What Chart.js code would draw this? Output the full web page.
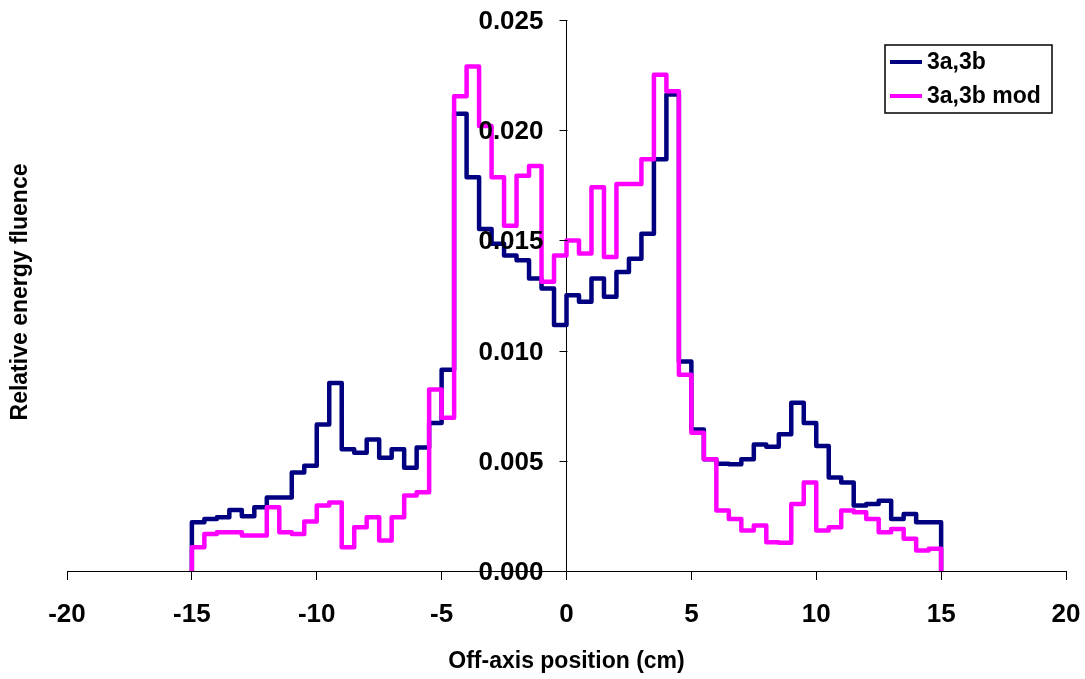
<!DOCTYPE html>
<html lang="en">
<head>
    <meta charset="UTF-8">
    <title>Relative energy fluence</title>
    <script src="https://cdn.jsdelivr.net/npm/chart.js"></script>
    <style>
        body { margin: 0; background: #fff; }
        #wrap { width: 1085px; height: 679px; }
    </style>
</head>
<body>
<div id="wrap"><canvas id="grafico"></canvas></div>
<script>
    // bin edges (cm) and fluence per bin
    const binEdges = [
        -15, -14.5, -14, -13.5, -13, -12.5, -12, -11.5, -11, -10.5,
        -10, -9.5, -9, -8.5, -8, -7.5, -7, -6.5, -6, -5.5,
        -5, -4.5, -4, -3.5, -3, -2.5, -2, -1.5, -1, -0.5,
        0, 0.5, 1, 1.5, 2, 2.5, 3, 3.5, 4, 4.5,
        5, 5.5, 6, 6.5, 7, 7.5, 8, 8.5, 9, 9.5,
        10, 10.5, 11, 11.5, 12, 12.5, 13, 13.5, 14, 14.5, 15
    ];
    const fluence3a3b = [
        0.00221, 0.00236, 0.00244, 0.00277, 0.00248, 0.00289, 0.00334, 0.00334, 0.00447, 0.00478,
        0.00665, 0.00853, 0.00552, 0.00537, 0.00597, 0.00514, 0.00552, 0.00469, 0.00560, 0.00672,
        0.00913, 0.02075, 0.01786, 0.01552, 0.01485, 0.01432, 0.01410, 0.01327, 0.01282, 0.01116,
        0.01251, 0.01222, 0.01327, 0.01244, 0.01357, 0.01417, 0.01530, 0.01868, 0.02162, 0.00951,
        0.00642, 0.00507, 0.00487, 0.00484, 0.00507, 0.00574, 0.00564, 0.00620, 0.00763, 0.00672,
        0.00567, 0.00424, 0.00402, 0.00297, 0.00304, 0.00319, 0.00236, 0.00259, 0.00221, 0.00221
    ];
    const fluenceMod = [
        0.00108, 0.00168, 0.00176, 0.00176, 0.00161, 0.00161, 0.00289, 0.00176, 0.00168, 0.00225,
        0.00297, 0.00311, 0.00108, 0.00199, 0.00244, 0.00138, 0.00244, 0.00342, 0.00357, 0.00823,
        0.00695, 0.02154, 0.02289, 0.02019, 0.01786, 0.01567, 0.01793, 0.01838, 0.01312, 0.01432,
        0.01500, 0.01440, 0.01741, 0.01425, 0.01756, 0.01756, 0.01868, 0.02252, 0.02177, 0.00890,
        0.00627, 0.00507, 0.00274, 0.00236, 0.00184, 0.00206, 0.00131, 0.00128, 0.00304, 0.00402,
        0.00184, 0.00199, 0.00274, 0.00266, 0.00236, 0.00176, 0.00191, 0.00146, 0.00093, 0.00101
    ];
    const seriesNames = ["3a,3b", "3a,3b mod"];
    const seriesColors = ["#000080", "#FF00FF"];

    // step curve that starts and ends on the x axis
    function stepPoints(vals) {
        const pts = [{ x: binEdges[0], y: 0 }];
        vals.forEach((v, i) => pts.push({ x: binEdges[i], y: v }));
        const last = binEdges[binEdges.length - 1];
        pts.push({ x: last, y: vals[vals.length - 1] });
        pts.push({ x: last, y: 0 });
        return pts;
    }

    const fuente = { family: "Liberation Sans, Arial, sans-serif", weight: "bold" };

    const extras = {
        id: "extras",
        afterDraw(chart) {
            const c = chart.ctx;
            const ys = chart.scales.y;
            const x0 = Math.round(chart.scales.x.getPixelForValue(0)) + 0.5;
            c.save();
            // y ticks and labels next to the axis crossing at x = 0
            c.strokeStyle = "#000";
            c.lineWidth = 1;
            c.fillStyle = "#000";
            c.font = "bold 26px Liberation Sans, Arial, sans-serif";
            c.textAlign = "right";
            c.textBaseline = "middle";
            ys.ticks.forEach((t) => {
                const y = Math.round(ys.getPixelForValue(t.value)) + 0.5;
                c.beginPath();
                c.moveTo(x0 - 8, y);
                c.lineTo(x0, y);
                c.stroke();
                c.fillText(t.value.toFixed(3), x0 - 24, y + 1);
            });

            // y axis title on the far left
            c.font = "bold 23px Liberation Sans, Arial, sans-serif";
            c.textAlign = "center";
            c.translate(21, 292);
            c.rotate(-Math.PI / 2);
            c.fillText("Relative energy fluence", 0, 0);
            c.restore();

            // legend box
            c.save();
            c.fillStyle = "#fff";
            c.fillRect(885, 45, 167, 68);
            c.strokeStyle = "#000";
            c.lineWidth = 1.5;
            c.strokeRect(885, 45, 167, 68);
            c.font = "bold 23px Liberation Sans, Arial, sans-serif";
            c.textBaseline = "middle";
            seriesNames.forEach((nombre, i) => {
                const y = 62 + i * 34;
                c.strokeStyle = seriesColors[i];
                c.lineWidth = 4;
                c.beginPath();
                c.moveTo(890, y);
                c.lineTo(922, y);
                c.stroke();
                c.fillStyle = "#000";
                c.fillText(nombre, 927, y + 1);
            });
            c.restore();
        }
    };

    const ctx = document.getElementById("grafico").getContext("2d");
    const chart = new Chart(ctx, {
        type: "line",
        data: {
            datasets: [
                {
                    label: seriesNames[0],
                    data: stepPoints(fluence3a3b),
                    borderColor: seriesColors[0],
                    order: 1
                },
                {
                    label: seriesNames[1],
                    data: stepPoints(fluenceMod),
                    borderColor: seriesColors[1],
                    order: 0
                }
            ]
        },
        options: {
            responsive: true,
            maintainAspectRatio: false,
            animation: false,
            layout: { padding: { left: 67, right: 19, top: 20, bottom: 6 } },
            elements: {
                point: { radius: 0 },
                line: { stepped: "before", borderWidth: 4.5, borderJoinStyle: "round", borderCapStyle: "round", fill: false }
            },
            plugins: {
                legend: { display: false },
                tooltip: { enabled: false }
            },
            scales: {
                x: {
                    type: "linear",
                    position: "bottom",
                    min: -20,
                    max: 20,
                    ticks: { stepSize: 5, color: "#000", font: { ...fuente, size: 26, lineHeight: 1 }, padding: 22, maxRotation: 0 },
                    grid: { drawOnChartArea: false, drawTicks: true, tickLength: 9, color: "#000" },
                    border: { color: "#000", width: 1 },
                    title: {
                        display: true,
                        text: "Off-axis position (cm)",
                        color: "#000",
                        font: { ...fuente, size: 23, lineHeight: 1 },
                        padding: { top: 0, bottom: 0 }
                    },
                    afterFit(scale) {
                        // labels at the ends fit inside the page padding
                        scale.paddingLeft = 0;
                        scale.paddingRight = 0;
                    }
                },
                y: {
                    type: "linear",
                    position: { x: 0 },
                    min: 0,
                    max: 0.025,
                    ticks: { stepSize: 0.005, display: false },
                    grid: { display: false },
                    border: { display: true, color: "#000", width: 1 }
                }
            }
        },
        plugins: [extras]
    });
</script>
</body>
</html>
